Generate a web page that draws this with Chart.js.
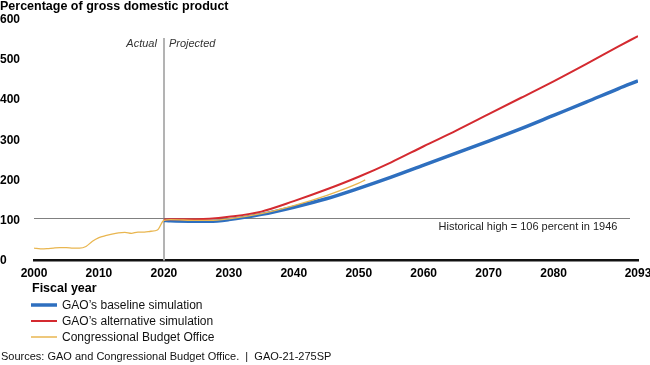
<!DOCTYPE html>
<html>
<head>
<meta charset="utf-8">
<script src="https://cdn.jsdelivr.net/npm/chart.js@4"></script>
<style>
  html, body { margin: 0; padding: 0; background: #fff; }
  #wrap { width: 650px; height: 365px; position: relative; }
</style>
</head>
<body>
<div id="wrap"><canvas id="debtChart"></canvas></div>
<script>
// debt held by the public, percent of GDP
var cboYears = [2000, 2001, 2002, 2003, 2004, 2005, 2006, 2007, 2008, 2009, 2010,
                2011, 2012, 2013, 2014, 2015, 2016, 2017, 2018, 2019, 2020,
                2021, 2025, 2027, 2030, 2035, 2040, 2045, 2050, 2051];
var cboValues = [31, 29, 29.5, 31, 32, 32, 31, 31, 35, 48, 57,
                 62, 66, 69, 70, 67.5, 71, 71, 73, 76, 100,
                 102, 100, 100, 104, 117, 137, 162, 193, 201];

var simYears = [2020, 2021, 2025, 2027, 2030, 2035, 2040, 2045, 2050, 2055,
                2060, 2065, 2070, 2075, 2080, 2085, 2090, 2093];
var baselineValues = [100, 99, 98, 98, 102, 115, 133, 154, 180, 208,
                      238, 268, 298, 329, 362, 395, 429, 448];
var alternativeValues = [102, 103, 103, 104, 109, 122, 148, 177, 209, 245,
                         285, 324, 365, 406, 447, 490, 534, 560];

var xTickValues = [2000, 2010, 2020, 2030, 2040, 2050, 2060, 2070, 2080, 2093];
var yTickMax = 600;
var historicalHigh = 106;
var splitYear = 2020;

var seriesNames = ["GAO\u2019s baseline simulation", "GAO\u2019s alternative simulation", "Congressional Budget Office"];

var FONT = "'Liberation Sans', Arial, Helvetica, sans-serif";

function toPoints(xs, ys) {
    var pts = [];
    for (var i = 0; i < xs.length; i++) pts.push({x: xs[i], y: ys[i]});
    return pts;
}

// reference lines, labels, legend and source note
var decorPlugin = {
    id: 'decor',
    beforeDatasetsDraw: function (chart) {
        var ctx = chart.ctx, xs = chart.scales.x, ys = chart.scales.y;
        var area = chart.chartArea;
        ctx.save();
        // Actual | Projected divider
        var sx = Math.round(xs.getPixelForValue(splitYear));
        ctx.strokeStyle = '#b3b3b3';
        ctx.lineWidth = 2;
        ctx.beginPath();
        ctx.moveTo(sx, 38);
        ctx.lineTo(sx, area.bottom);
        ctx.stroke();
        // historical high
        var hy = Math.round(ys.getPixelForValue(historicalHigh)) + 0.5;
        ctx.strokeStyle = '#808080';
        ctx.lineWidth = 1;
        ctx.beginPath();
        ctx.moveTo(area.left, hy);
        ctx.lineTo(630, hy);
        ctx.stroke();
        ctx.restore();
    },
    afterDraw: function (chart) {
        var ctx = chart.ctx, xs = chart.scales.x, ys = chart.scales.y;
        var sx = xs.getPixelForValue(splitYear);
        ctx.save();
        ctx.fillStyle = '#000';
        ctx.textBaseline = 'middle';
        ctx.font = 'bold 12.5px ' + FONT;
        ctx.textAlign = 'left';
        ctx.fillText('Percentage of gross domestic product', 0, 7);

        ctx.font = 'italic 11px ' + FONT;
        ctx.fillStyle = '#333';
        ctx.textAlign = 'right';
        ctx.fillText('Actual', sx - 7, 44);
        ctx.textAlign = 'left';
        ctx.fillText('Projected', sx + 5, 44);

        ctx.font = '11px ' + FONT;
        ctx.fillStyle = '#222';
        ctx.textAlign = 'center';
        ctx.fillText('Historical high = 106 percent in 1946', 528, ys.getPixelForValue(historicalHigh) + 9);

        ctx.textAlign = 'left';
        ctx.fillStyle = '#000';
        ctx.font = 'bold 12.5px ' + FONT;
        ctx.fillText('Fiscal year', 32, 289);

        ctx.font = '12px ' + FONT;
        var order = [0, 1, 2];
        order.forEach(function (i, k) {
            var ds = chart.data.datasets[i];
            var y = 305 + k * 16;
            ctx.strokeStyle = ds.borderColor;
            ctx.lineWidth = Math.max(ds.borderWidth, 1.5);
            ctx.beginPath();
            ctx.moveTo(31, y);
            ctx.lineTo(57, y);
            ctx.stroke();
            ctx.fillStyle = '#111';
            ctx.fillText(ds.label, 62, y + 1);
        });

        ctx.font = '11px ' + FONT;
        ctx.fillStyle = '#111';
        ctx.fillText('Sources: GAO and Congressional Budget Office.  |  GAO-21-275SP', 1, 357);
        ctx.restore();
    }
};

var ctx = document.getElementById('debtChart').getContext('2d');
var chart = new Chart(ctx, {
    type: 'line',
    data: {
        datasets: [
            {
                label: seriesNames[0],
                data: toPoints(simYears, baselineValues),
                borderColor: '#2e6fbf',
                borderWidth: 3.5,
                order: 2
            },
            {
                label: seriesNames[1],
                data: toPoints(simYears, alternativeValues),
                borderColor: '#d42a30',
                borderWidth: 2,
                order: 1
            },
            {
                label: seriesNames[2],
                data: toPoints(cboYears, cboValues),
                borderColor: '#e9b650',
                borderWidth: 1.3,
                order: 0
            }
        ]
    },
    options: {
        responsive: true,
        maintainAspectRatio: false,
        animation: false,
        devicePixelRatio: 1,
        layout: {padding: {left: 0, top: 20, right: 12, bottom: 0}},
        elements: {
            point: {radius: 0, hoverRadius: 0},
            line: {cubicInterpolationMode: 'monotone', fill: false, borderCapStyle: 'butt'}
        },
        plugins: {
            legend: {display: false},
            tooltip: {enabled: false}
        },
        scales: {
            x: {
                type: 'linear',
                min: 2000,
                max: 2093,
                grid: {display: false, drawTicks: false},
                border: {display: true, color: '#111', width: 2.5},
                afterBuildTicks: function (scale) {
                    scale.ticks = xTickValues.map(function (v) { return {value: v}; });
                },
                afterFit: function (scale) {
                    scale.height = 104.5;
                    scale.paddingLeft = 0;
                    scale.paddingRight = 0;
                },
                ticks: {
                    autoSkip: false,
                    maxRotation: 0,
                    padding: 6,
                    color: '#000',
                    font: {family: FONT, size: 12, weight: 'bold'},
                    callback: function (v) { return String(v); }
                }
            },
            y: {
                min: 0,
                max: yTickMax,
                grid: {display: false, drawTicks: false},
                border: {display: false},
                afterFit: function (scale) {
                    scale.width = 34;
                },
                ticks: {
                    stepSize: 100,
                    crossAlign: 'far',
                    padding: 4,
                    color: '#000',
                    font: {family: FONT, size: 12, weight: 'bold'}
                }
            }
        }
    },
    plugins: [decorPlugin]
});
</script>
</body>
</html>
